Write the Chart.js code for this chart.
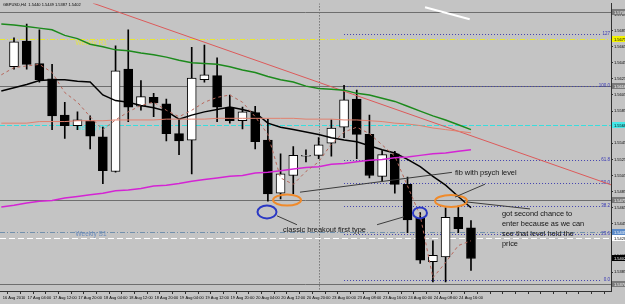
<!DOCTYPE html>
<html lang="en">
<head>
<meta charset="UTF-8" />
<title>GBPUSD,H4</title>
<script src="https://cdn.jsdelivr.net/npm/chart.js"></script>
<style>
  html, body { margin: 0; padding: 0; background: #c4c4c4; }
  canvas { display: block; }
</style>
</head>
<body>
<canvas id="chart" width="625" height="304"></canvas>
<script>
// H4 candles, 16 Aug 2010 20:00 .. 24 Aug 2010 16:00
const barOpen  = [1.5640,1.5672,1.5644,1.5625,1.5580,1.5567,1.5573,1.5553,1.5510,1.5637,1.5591,1.5602,1.5594,1.5557,1.5549,1.5624,1.5629,1.5589,1.5573,1.5583,1.5549,1.5483,1.5505,1.5529,1.5530,1.5545,1.5565,1.5600,1.5556,1.5504,1.5532,1.5494,1.5452,1.5398,1.5404,1.5453,1.5440];
const barHigh  = [1.5676,1.5693,1.5686,1.5643,1.5596,1.5584,1.5579,1.5565,1.5666,1.5686,1.5623,1.5607,1.5600,1.5574,1.5664,1.5667,1.5651,1.5605,1.5590,1.5591,1.5575,1.5532,1.5541,1.5537,1.5552,1.5574,1.5617,1.5611,1.5580,1.5536,1.5535,1.5503,1.5459,1.5424,1.5465,1.5467,1.5449];
const barLow   = [1.5637,1.5637,1.5621,1.5562,1.5551,1.5562,1.5538,1.5495,1.5509,1.5572,1.5586,1.5578,1.5548,1.5531,1.5507,1.5621,1.5572,1.5570,1.5563,1.5538,1.5473,1.5476,1.5482,1.5522,1.5526,1.5529,1.5552,1.5526,1.5502,1.5498,1.5483,1.5434,1.5396,1.5373,1.5373,1.5434,1.5387];
const barClose = [1.5671,1.5643,1.5624,1.5579,1.5567,1.5574,1.5554,1.5511,1.5635,1.5590,1.5603,1.5595,1.5557,1.5548,1.5626,1.5630,1.5590,1.5573,1.5584,1.5547,1.5482,1.5507,1.5530,1.5530,1.5543,1.5564,1.5599,1.5556,1.5505,1.5531,1.5494,1.5450,1.5400,1.5406,1.5453,1.5439,1.5402];

// time labels, one every 2 bars
const timeLabels = ['16 Aug 2010','17 Aug 04:00','17 Aug 12:00','17 Aug 20:00','18 Aug 04:00','18 Aug 12:00','18 Aug 20:00','19 Aug 04:00','19 Aug 12:00','19 Aug 20:00','20 Aug 04:00','20 Aug 12:00','20 Aug 20:00','23 Aug 00:00','23 Aug 08:00','23 Aug 16:00','24 Aug 00:00','24 Aug 08:00','24 Aug 16:00'];
const priceTicks = [1.5385,1.5405,1.5425,1.5445,1.5465,1.5485,1.5505,1.5525,1.5545,1.5565,1.5585,1.5605,1.5625,1.5645,1.5665,1.5685,1.5705];

// indicator lines, first value belongs to the bar before the first visible one
const maFirstBar = -1;
const maGreen   = [1.5693,1.5692,1.5690,1.5688,1.5686,1.5679,1.5675,1.5668,1.5665,1.5661,1.5660,1.5657,1.5655,1.5652,1.5648,1.5645,1.5644,1.5643,1.5640,1.5636,1.5633,1.5628,1.5624,1.5621,1.5616,1.5613,1.5612,1.5611,1.5607,1.5605,1.5601,1.5597,1.5591,1.5585,1.5579,1.5574,1.5568,1.5562];
const maBlack   = [1.5610,1.5614,1.5618,1.5623,1.5624,1.5624,1.5622,1.5621,1.5605,1.5598,1.5596,1.5592,1.5589,1.5585,1.5575,1.5580,1.5584,1.5587,1.5590,1.5587,1.5583,1.5570,1.5565,1.5562,1.5559,1.5556,1.5552,1.5549,1.5547,1.5542,1.5537,1.5533,1.5525,1.5516,1.5504,1.5493,1.5479,1.5465];
const maMagenta = [1.5466,1.5468,1.5471,1.5473,1.5474,1.5477,1.5479,1.5481,1.5483,1.5486,1.5487,1.5489,1.5492,1.5493,1.5495,1.5498,1.5500,1.5502,1.5504,1.5505,1.5508,1.5509,1.5511,1.5513,1.5515,1.5516,1.5519,1.5520,1.5522,1.5524,1.5525,1.5527,1.5528,1.5530,1.5532,1.5533,1.5535,1.5537];
const maSalmon  = [1.5570,1.5570,1.5570,1.5572,1.5572,1.5572,1.5573,1.5573,1.5573,1.5574,1.5574,1.5574,1.5574,1.5575,1.5575,1.5575,1.5575,1.5576,1.5576,1.5576,1.5576,1.5576,1.5576,1.5576,1.5575,1.5575,1.5575,1.5574,1.5574,1.5573,1.5572,1.5570,1.5569,1.5567,1.5564,1.5562,1.5560,1.5558];
const maDashed  = [1.5630,1.5639,1.5641,1.5643,1.5633,1.5608,1.5596,1.5578,1.5562,1.5574,1.5584,1.5592,1.5596,1.5586,1.5578,1.5586,1.5596,1.5602,1.5605,1.5596,1.5578,1.5556,1.5502,1.5494,1.5510,1.5522,1.5544,1.5559,1.5565,1.5557,1.5543,1.5529,1.5492,1.5455,1.5378,1.5397,1.5418,1.5424];

// chart objects
const trendBars = [6.22, 47.11];
const trendPrices = [1.5719, 1.5493];
const whiteSegBars = [32.38, 35.9];
const whiteSegPrices = [1.5714, 1.5699];
const hLevels = [1.5708, 1.5616, 1.5475, 1.5370];
const pivotNames = ['Weekly R1', 'Weekly PP', 'Weekly S1'];
const pivotValues = [1.5675, 1.5568, 1.5435];
const whiteLevel = 1.5428;
const fibZero = 1.5375, fibHundred = 1.5616, fibFromBar = 26, fibToBar = 46.3;
const fibRatios = [0, 23.6, 38.2, 50, 61.8, 100, 127];
const fibLabels = ['0.0', '23.6', '38.2', '50.0', '61.8', '100.0', '127'];
const separatorBar = 24;
const lastBid = 1.5402;

const bars = barOpen.map((o, i) => i);
const bodyColors = barOpen.map((o, i) => barClose[i] >= o ? '#ffffff' : '#000000');
const maPoints = arr => arr.map((v, i) => ({ x: i + maFirstBar, y: v }));

function lineSet(data, color, width, dash) {
  return { type: 'line', data, borderColor: color, borderWidth: width, borderDash: dash || [],
           pointRadius: 0, tension: 0, order: 0 };
}

const pivotStyle = [
  { color: '#e8e830', dash: [5, 2, 1, 2], text: '#e4e448', dy: 4 },
  { color: '#38dede', dash: [5, 2],       text: '#44e6e6', dy: 3 },
  { color: '#7290ac', dash: [5, 2, 1, 2], text: '#6c8cbc', dy: 2 }
];

const objectsPlugin = {
  id: 'objects',
  beforeDraw(chart) {
    const ctx = chart.ctx;
    ctx.save();
    ctx.fillStyle = '#c4c4c4';
    ctx.fillRect(0, 0, chart.width, chart.height);
    ctx.restore();
  },
  beforeDatasetsDraw(chart) {
    const { ctx, chartArea: a, scales: { x, y } } = chart;
    const Y = v => Math.round(y.getPixelForValue(v)) + 0.5;
    ctx.save();
    ctx.beginPath();
    ctx.rect(a.left, a.top, a.right - a.left, a.bottom - a.top);
    ctx.clip();
    ctx.lineWidth = 1;

    // separator
    const sx = Math.round(x.getPixelForValue(separatorBar)) + 0.5;
    ctx.strokeStyle = '#505050';
    ctx.setLineDash([1, 2]);
    ctx.beginPath(); ctx.moveTo(sx, a.top); ctx.lineTo(sx, a.bottom); ctx.stroke();

    // horizontal lines
    ctx.setLineDash([]);
    ctx.strokeStyle = '#6e6e6e';
    hLevels.forEach(v => { ctx.beginPath(); ctx.moveTo(a.left, Y(v)); ctx.lineTo(a.right, Y(v)); ctx.stroke(); });

    // weekly pivots
    ctx.font = '6.5px "Liberation Sans"';
    ctx.textBaseline = 'middle';
    pivotValues.forEach((v, i) => {
      const st = pivotStyle[i];
      ctx.strokeStyle = st.color;
      ctx.setLineDash(st.dash);
      ctx.beginPath(); ctx.moveTo(a.left, Y(v)); ctx.lineTo(a.right, Y(v)); ctx.stroke();
      ctx.fillStyle = st.text;
      ctx.fillText(pivotNames[i], x.getPixelForValue(4.85), Y(v) + st.dy);
    });
    ctx.strokeStyle = '#ffffff';
    ctx.setLineDash([6, 3]);
    ctx.beginPath(); ctx.moveTo(a.left, Y(whiteLevel)); ctx.lineTo(a.right, Y(whiteLevel)); ctx.stroke();

    // fibonacci
    const fx0 = x.getPixelForValue(fibFromBar), fx1 = x.getPixelForValue(fibToBar);
    ctx.strokeStyle = '#4444b0';
    ctx.setLineDash([1, 2]);
    ctx.font = '4.5px "Liberation Sans"';
    ctx.fillStyle = '#3434b4';
    ctx.textAlign = 'right';
    ctx.textBaseline = 'bottom';
    fibRatios.forEach((r, i) => {
      const py = Y(fibZero + (fibHundred - fibZero) * r / 100);
      ctx.beginPath(); ctx.moveTo(fx0, py); ctx.lineTo(fx1, py); ctx.stroke();
      ctx.fillText(fibLabels[i], a.right - 1, py + 1.5);
    });
    ctx.restore();
  },
  afterDatasetsDraw(chart) {
    const { ctx, scales: { x, y } } = chart;
    const X = v => x.getPixelForValue(v), Y = v => y.getPixelForValue(v);
    ctx.save();
    ctx.lineWidth = 2;
    [[21.51, 1.54745, 14, 5.5, '#f08a2a'], [34.43, 1.54733, 16, 6, '#f08a2a'],
     [19.93, 1.54598, 9.5, 6.5, '#2a38c4'], [31.98, 1.54586, 7, 5.5, '#2a38c4']].forEach(e => {
      ctx.strokeStyle = e[4];
      ctx.beginPath(); ctx.ellipse(X(e[0]), Y(e[1]), e[2], e[3], 0, 0, Math.PI * 2); ctx.stroke();
    });
    ctx.lineWidth = 1;
    ctx.strokeStyle = '#3c3c3c';
    [[22.29, 1.54439, 20.72, 1.54549], [28.6, 1.54439, 30.72, 1.54537], [22.53, 1.54843, 34.5, 1.55089],
     [34.74, 1.54782, 37.1, 1.54942], [35.69, 1.54721, 40.65, 1.54635]].forEach(l => {
      ctx.beginPath(); ctx.moveTo(X(l[0]), Y(l[1])); ctx.lineTo(X(l[2]), Y(l[3])); ctx.stroke();
    });
    ctx.fillStyle = '#141414';
    ctx.font = '7.4px "Liberation Sans"';
    ctx.textBaseline = 'middle';
    ctx.fillText('classic breakout first type', X(21.19), Y(1.54377));
    ctx.fillText('fib with psych level', X(34.74), Y(1.55077));
    ['got second chance to', 'enter because as we can', 'see that level held the', 'price']
      .forEach((t, i) => ctx.fillText(t, X(38.44), Y(1.54574) + i * 10));
    ctx.restore();
  },
  afterDraw(chart) {
    const { ctx, chartArea: a, scales: { y } } = chart;
    ctx.save();
    ctx.font = '4px "Liberation Sans"';
    ctx.textBaseline = 'middle';
    const boxes = [[hLevels[0], '#7a7a7a', '#fff'], [pivotValues[0], '#f2f200', '#000'], [hLevels[1], '#7a7a7a', '#fff'],
                   [pivotValues[1], '#44e8e8', '#000'], [hLevels[2], '#7a7a7a', '#fff'], [pivotValues[2], '#5a8ac8', '#fff'],
                   [whiteLevel, '#ffffff', '#000'], [lastBid, '#000000', '#fff'], [hLevels[3], '#7a7a7a', '#fff']];
    boxes.forEach(b => {
      const py = Math.round(y.getPixelForValue(b[0]));
      ctx.fillStyle = b[1];
      ctx.fillRect(a.right + 1, py - 3, chart.width - a.right - 1, 6);
      ctx.fillStyle = b[2];
      ctx.fillText(b[0].toFixed(4), a.right + 3, py + 0.5);
    });
    ctx.fillStyle = '#000';
    ctx.font = '4px "Liberation Sans"';
    ctx.fillText('GBPUSD,H4  ' + [barOpen, barHigh, barLow, barClose].map(s => s[s.length - 1].toFixed(4)).join(' '), 3, 5);
    ctx.restore();
  }
};

new Chart(document.getElementById('chart'), {
  type: 'bar',
  data: {
    datasets: [
      lineSet(maPoints(maDashed), '#b8685c', 1, [3, 3]),
      lineSet(maPoints(maSalmon), '#e2806e', 1),
      lineSet(maPoints(maMagenta), '#d424d4', 1.5),
      lineSet(maPoints(maGreen), '#1c8a1c', 1.5),
      lineSet(maPoints(maBlack), '#000000', 1.5),
      lineSet(trendBars.map((b, i) => ({ x: b, y: trendPrices[i] })), '#dc5a5a', 1),
      lineSet(whiteSegBars.map((b, i) => ({ x: b, y: whiteSegPrices[i] })), '#ffffff', 2),
      {
        label: 'body',
        data: bars.map(i => ({ x: i, y: [barOpen[i], barClose[i]] })),
        backgroundColor: bodyColors,
        borderColor: '#000000',
        borderWidth: 1,
        borderSkipped: false,
        barThickness: 9,
        grouped: false,
        order: 1
      },
      {
        label: 'wick',
        data: bars.map(i => ({ x: i, y: [barLow[i], barHigh[i]] })),
        backgroundColor: '#000000',
        barThickness: 1,
        grouped: false,
        order: 2
      }
    ]
  },
  options: {
    responsive: false,
    animation: false,
    layout: { padding: 0 },
    plugins: { legend: { display: false }, tooltip: { enabled: false } },
    scales: {
      x: {
        type: 'linear',
        min: -1.103,
        max: 47.03,
        offset: false,
        afterFit: s => { s.height = 13; },
        afterBuildTicks: s => {
          const t = [];
          for (let i = -1; i <= 47; i++) t.push({ value: i });
          s.ticks = t;
        },
        ticks: {
          autoSkip: false, maxRotation: 0, padding: 1, color: '#000',
          font: { size: 4, family: 'Liberation Sans' },
          callback: v => (v >= 0 && v % 2 === 0 && v / 2 < timeLabels.length) ? timeLabels[v / 2] : ''
        },
        grid: { drawOnChartArea: false, drawTicks: true, tickLength: 3, color: '#303030' },
        border: { display: true, color: '#303030' }
      },
      y: {
        type: 'linear',
        position: 'right',
        min: 1.53616,
        max: 1.57187,
        afterFit: s => { s.width = 14; },
        afterBuildTicks: s => { s.ticks = priceTicks.map(v => ({ value: v })); },
        ticks: {
          padding: 1, color: '#000',
          font: { size: 4, family: 'Liberation Sans' },
          callback: v => v.toFixed(4)
        },
        grid: { drawOnChartArea: false, drawTicks: true, tickLength: 2, color: '#303030' },
        border: { display: true, color: '#303030' }
      }
    }
  },
  plugins: [objectsPlugin]
});
</script>
</body>
</html>
